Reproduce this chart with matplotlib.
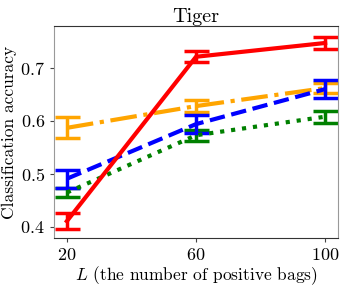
import matplotlib
matplotlib.use("Agg")
import matplotlib.pyplot as plt

plt.rcParams['font.family'] = 'cmr10'
plt.rcParams['mathtext.fontset'] = 'cm'
plt.rcParams['axes.formatter.use_mathtext'] = True

L = [20, 60, 100]
red = [0.411, 0.721, 0.747]
red_err = [0.015, 0.01, 0.012]
orange = [0.587, 0.628, 0.662]
orange_err = [0.02, 0.012, 0.01]
blue = [0.491, 0.594, 0.660]
blue_err = [0.017, 0.017, 0.017]
green = [0.465, 0.573, 0.608]
green_err = [0.008, 0.01, 0.011]

fig, ax = plt.subplots(figsize=(3.46, 2.89), dpi=100)
kw = dict(lw=3, capsize=9, capthick=2.5, elinewidth=2.5)
ax.errorbar(L, orange, yerr=orange_err, color='orange', ls='-.', **kw)
ax.errorbar(L, green, yerr=green_err, color='green', ls=':', **kw)
ax.errorbar(L, blue, yerr=blue_err, color='blue', ls='--', **kw)
ax.errorbar(L, red, yerr=red_err, color='red', ls='-', **kw)

ax.set_xticks(L)
ax.set_yticks([0.4, 0.5, 0.6, 0.7])
ax.set_xlim(16, 104)
ax.set_ylim(0.379, 0.779)
ax.tick_params(labelsize=13, color='#444444', length=3)
ax.spines['top'].set_color('#333333')
ax.spines['bottom'].set_color('#333333')
ax.spines['left'].set_color('#999999')
ax.spines['right'].set_color('#999999')
ax.set_title('Tiger', fontsize=14.5, pad=3)
ax.set_xlabel(r'$L$ (the number of positive bags)', fontsize=12.5, labelpad=1)
ax.set_ylabel('Classification accuracy', fontsize=12.5, labelpad=2)
fig.subplots_adjust(left=0.156, right=0.977, top=0.91, bottom=0.176)
fig.savefig('out.png', dpi=100)
